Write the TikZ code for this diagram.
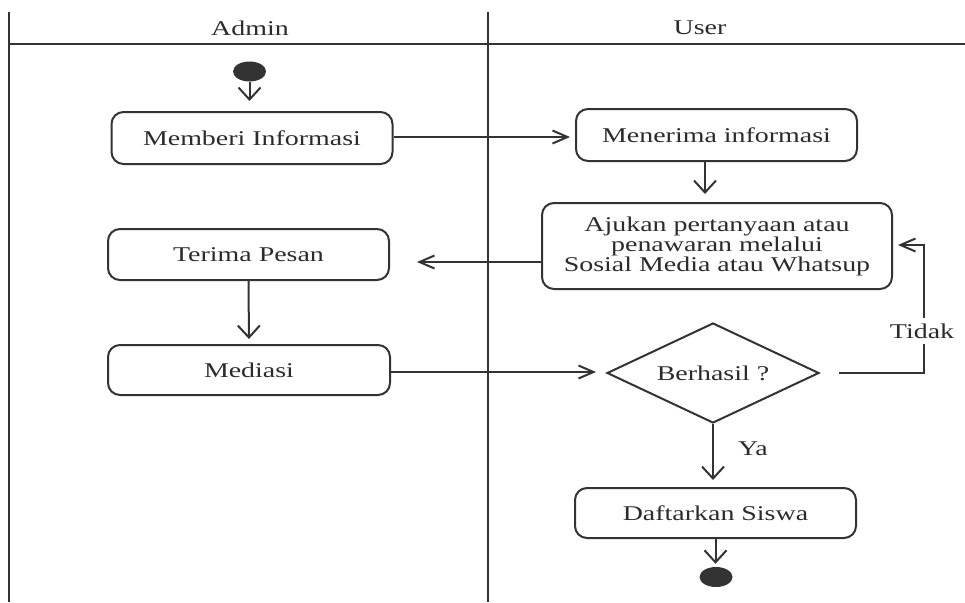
\documentclass[tikz,border=0pt]{standalone}
\usepackage{fontspec}
\setmainfont[FakeStretch=1.33]{Liberation Serif}
\usetikzlibrary{shapes.geometric,arrows.meta}
\definecolor{ln}{HTML}{333333}
\definecolor{tx}{HTML}{2B2B2B}
\begin{document}
\begin{tikzpicture}[x=1pt,y=-1pt,
  every node/.style={text=tx,font=\fontsize{21}{20}\selectfont},
  act/.style={draw=ln,line width=2pt,rounded corners=12pt,minimum width=281pt,minimum height=51pt,inner sep=0pt,align=center},
  dec/.style={draw=ln,line width=2pt,diamond,aspect=2.12,minimum width=212pt,minimum height=100pt,inner sep=0pt},
  dot/.style={ellipse,fill=ln,minimum width=33pt,minimum height=20pt,inner sep=0pt},
  lane/.style={draw=ln,line width=1.5pt},
  flowh/.style={draw=ln,line width=2pt,-{Straight Barb[length=15pt,width=13pt,line width=2pt]}},
  flowv/.style={draw=ln,line width=2pt,-{Straight Barb[length=12pt,width=22pt,line width=2pt]}},
  lbl/.style={inner sep=1pt}]
\useasboundingbox (0,0) rectangle (965,602);
% swimlanes
\coordinate (lt) at (9,12);
\coordinate (lb) at (9,602);
\coordinate (mt) at (488,12);
\coordinate (mb) at (488,602);
\coordinate (hl) at (9,44);
\coordinate (hr) at (965,44);
\draw[lane] (lt) -- (lb);
\draw[lane] (mt) -- (mb);
\draw[lane] (hl) -- (hr);
\node (hadmin) at (250,28) {Admin};
\node (huser) at (700,28) {User};
% nodes
\node[dot] (start) at (249.5,71.5) {};
\node[act,minimum height=52pt] (memberi) at (252,138) {Memberi Informasi};
\node[act,minimum height=52pt] (menerima) at (716.5,135) {Menerima informasi};
\node[act,minimum width=350pt,minimum height=86pt] (ajukan) at (717,246) {Ajukan pertanyaan atau\\penawaran melalui\\Sosial Media atau Whatsup};
\node[act] (terima) at (248.5,254.5) {Terima Pesan};
\node[act,minimum width=282pt,minimum height=50pt] (mediasi) at (249,370) {Mediasi};
\node[dec] (dia) at (713,373) {Berhasil ?};
\node[act,minimum height=50pt] (daftar) at (715.5,513) {Daftarkan Siswa};
\node[dot] (end) at (716,577) {};
\coordinate (tk) at (924,373);
% connectors
\draw[flowv,shorten >=10pt] (start.south) -- (start.south |- memberi.north);
\draw[flowh,shorten >=5pt] (memberi.east |- 0,137) -- (menerima.west |- 0,137);
\draw[flowv,shorten >=8pt] (menerima.south -| 705,0) -- (ajukan.north -| 705,0);
\draw[flowh,shorten >=27pt] (ajukan.west |- 0,262) -- (terima.east |- 0,262);
\draw[flowv,shorten >=5pt] (terima.south) -- (mediasi.north);
\draw[flowh,shorten >=10pt] (mediasi.east |- 0,372) -- (dia.west |- 0,372);
\draw[flowh,shorten <=19pt,shorten >=5pt] (dia.east) -- (tk) |- (ajukan.east |- 0,245);
\node[lbl,fill=white,inner ysep=6pt] (tidak) at (922,331) {Tidak};
\draw[flowv,shorten >=7pt] (dia.south) -- (dia.south |- daftar.north);
\node[lbl] (ya) at (753,449) {Ya};
\draw[flowv,shorten >=3pt] (daftar.south) -- (daftar.south |- end.north);
\end{tikzpicture}
\end{document}
